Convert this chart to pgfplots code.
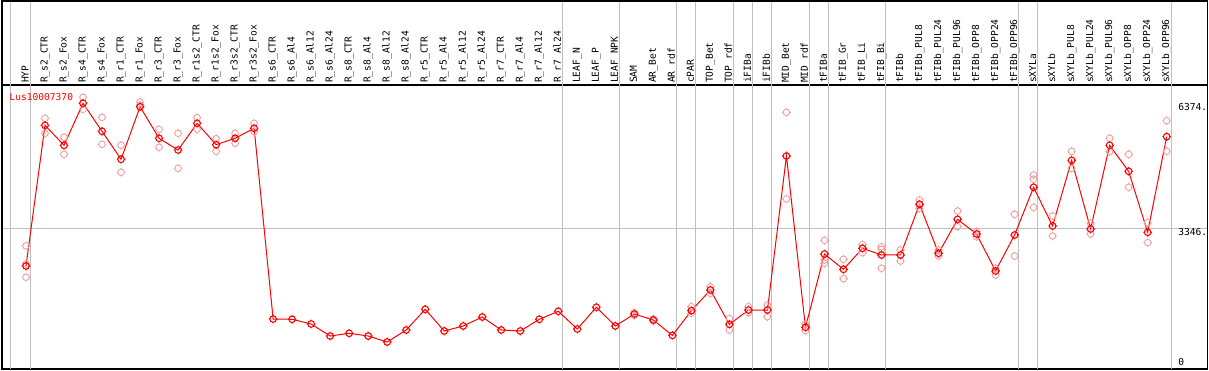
\documentclass[border=0pt]{standalone}
\usepackage{pgfplots}
\pgfplotsset{compat=1.18}
\usepackage{fontspec}
\setmainfont{DejaVu Sans Mono}
\definecolor{gridg}{RGB}{192,192,192}
\definecolor{repc}{RGB}{240,160,160}
\definecolor{meanc}{RGB}{255,0,0}
\newcommand\lbl{\fontsize{9.6}{10}\selectfont}
\pgfdeclareplotmark{tgt}{%
  \pgfpathcircle{\pgfpointorigin}{3.3pt}%
  \pgfpathmoveto{\pgfpoint{0pt}{3.3pt}}\pgfpathlineto{\pgfpoint{0pt}{4.3pt}}%
  \pgfpathmoveto{\pgfpoint{0pt}{-3.3pt}}\pgfpathlineto{\pgfpoint{0pt}{-4.3pt}}%
  \pgfpathmoveto{\pgfpoint{3.3pt}{0pt}}\pgfpathlineto{\pgfpoint{4.3pt}{0pt}}%
  \pgfpathmoveto{\pgfpoint{-3.3pt}{0pt}}\pgfpathlineto{\pgfpoint{-4.3pt}{0pt}}%
  \pgfusepathqstroke}
\pgfplotstableread{
i v
0 2432
1 5840
2 5356
3 6374
4 5695
5 5017
6 6291
7 5526
8 5242
9 5889
10 5371
11 5526
12 5768
13 1148
14 1141
15 1027
16 736
17 802
18 736
19 591
20 882
21 1383
22 858
23 979
24 1197
25 882
26 858
27 1141
28 1335
29 906
30 1432
31 979
32 1269
33 1124
34 750
35 1350
36 1851
37 1019
38 1366
39 1366
40 5097
41 947
42 2723
43 2352
44 2861
45 2699
46 2699
47 3927
48 2740
49 3563
50 3207
51 2311
52 3183
53 4339
54 3401
55 4993
56 3328
57 5356
58 4726
59 3248
60 5565
}\meantab
\pgfplotstableread{
i v
0 2920
0 2480
0 2160
1 6010
1 5647
2 5550
2 5138
3 6519
3 6228
4 6034
4 5380
5 5356
5 4702
6 6405
6 6332
7 5744
7 5308
8 5647
8 4799
9 6025
9 5744
10 5516
10 5211
11 5647
11 5405
12 5889
12 5686
32 1300
32 1240
33 1150
33 1100
35 1447
35 1286
36 1931
36 1771
37 1156
37 882
38 1447
38 1301
39 1487
39 1204
40 6155
40 4055
41 1027
41 865
42 3054
42 2578
42 2497
43 2594
43 2125
44 2949
44 2755
45 2900
45 2837
45 2377
46 2820
46 2553
47 4031
47 3830
48 2820
48 2674
49 3764
49 3384
50 3263
50 3142
51 2377
51 2214
52 3684
52 2674
53 4637
53 4532
53 3854
54 3643
54 3159
55 5211
55 4799
56 3467
56 3207
57 5526
57 5202
58 5138
58 4339
59 3481
59 2997
60 5952
60 5211
}\reptab
\begin{document}
\begin{tikzpicture}
\path[use as bounding box] (-1.8pt,-1pt) rectangle (1207.2pt,369pt);
\begin{axis}[
  at={(0pt,0pt)}, anchor=south west,
  scale only axis, width=1205.5pt, height=284pt,
  xmin=-1.273, xmax=62.14, ymin=-63, ymax=6817,
  axis line style={line width=1.5pt},
  xtick={0,...,60},
  xticklabels={HYP,R\_s2\_CTR,R\_s2\_Fox,R\_s4\_CTR,R\_s4\_Fox,R\_r1\_CTR,R\_r1\_Fox,R\_r3\_CTR,R\_r3\_Fox,R\_r1s2\_CTR,R\_r1s2\_Fox,R\_r3s2\_CTR,R\_r3s2\_Fox,R\_s6\_CTR,R\_s6\_Al4,R\_s6\_Al12,R\_s6\_Al24,R\_s8\_CTR,R\_s8\_Al4,R\_s8\_Al12,R\_s8\_Al24,R\_r5\_CTR,R\_r5\_Al4,R\_r5\_Al12,R\_r5\_Al24,R\_r7\_CTR,R\_r7\_Al4,R\_r7\_Al12,R\_r7\_Al24,LEAF\_N,LEAF\_P,LEAF\_NPK,SAM,AR\_Bet,AR\_rdf,cPAR,TOP\_Bet,TOP\_rdf,iFIBa,iFIBb,MID\_Bet,MID\_rdf,tFIBa,tFIB\_Gr,tFIB\_Li,tFIB\_Bi,tFIBb,tFIBb\_PUL8,tFIBb\_PUL24,tFIBb\_PUL96,tFIBb\_OPP8,tFIBb\_OPP24,tFIBb\_OPP96,sXYLa,sXYLb,sXYLb\_PUL8,sXYLb\_PUL24,sXYLb\_PUL96,sXYLb\_OPP8,sXYLb\_OPP24,sXYLb\_OPP96},
  xticklabel pos=upper,
  xticklabel style={rotate=90, anchor=west, inner sep=0pt, xshift=2pt, font=\lbl, text height=7pt, text depth=2pt},
  major tick length=0pt,
  ytick={3346}, yticklabels={},
  ymajorgrids=true,
  major grid style={draw=gridg, line width=1pt},
  clip=false,
]
\pgfplotsinvokeforeach{-0.79,0.23,28.23,31.23,34.23,35.23,37.23,38.23,39.23,41.23,42.23,45.23,52.23,53.23,60.23}{
  \draw[gridg, line width=1pt] (axis cs:#1,-63) -- (axis cs:#1,8850);
}
\draw[line width=1.5pt] (axis cs:-1.273,6817) -- (axis cs:-1.273,8857) -- (axis cs:62.14,8857) -- (axis cs:62.14,6817);
\addplot[only marks, mark=tgt, draw=repc, line width=0.9pt] table[x=i,y=v]{\reptab};
\addplot[meanc, line width=1pt, mark=tgt, mark options={line width=1.1pt, draw=meanc}] table[x=i,y=v]{\meantab};
\node[anchor=west, inner sep=0pt, text=meanc, font=\lbl] at (axis cs:-0.88,6538) {Lus10007370};
\node[anchor=west, inner sep=0pt, font=\lbl] at (axis cs:60.6,6284) {6374.};
\node[anchor=west, inner sep=0pt, font=\lbl] at (axis cs:60.6,3263) {3346.};
\node[anchor=west, inner sep=0pt, font=\lbl] at (axis cs:60.6,114) {0};
\end{axis}
\end{tikzpicture}
\end{document}
